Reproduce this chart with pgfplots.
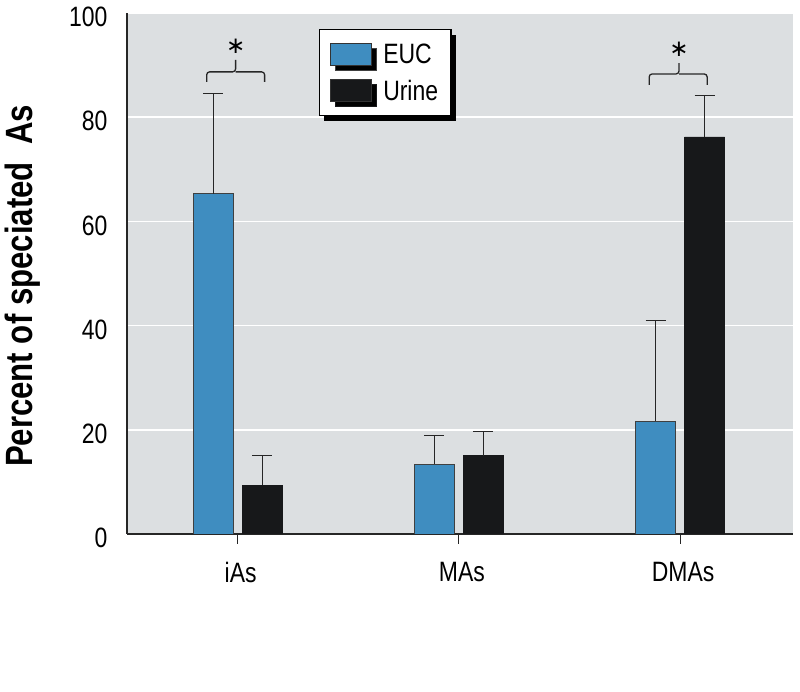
\documentclass[border=0pt]{standalone}
\usepackage{fontspec}
\setmainfont{Liberation Sans}[FakeStretch=0.82]
\newfontfamily\dejavu{DejaVu Sans}
\usepackage{pgfplots}
\pgfplotsset{compat=1.18}
\usetikzlibrary{calc,shadows}
\definecolor{bgGray}{HTML}{DCDFE1}
\definecolor{eucBlue}{HTML}{3F8DC0}
\definecolor{urineBlack}{HTML}{17181A}
\begin{document}
\begin{tikzpicture}
\begin{axis}[name=ax, scale only axis, width=666pt, height=521pt,
 xmin=-0.5, xmax=2.51, ymin=0, ymax=100,
 ybar=9pt, bar width=40pt,
 axis background/.style={fill=bgGray},
 axis x line*=bottom, axis y line*=left,
 axis line style={line width=1.8pt, black!85, -},
 xtick={0,1,2}, xticklabels={iAs,MAs,DMAs},
 ytick={0,20,...,100},
 ymajorgrids, grid style={white, line width=1.6pt},
 tick align=outside, major tick length=10pt,
 xtick style={black!85, line width=0.9pt},
 ytick style={draw=none},
 /pgf/number format/assume math mode=true,
 ticklabel style={font=\fontsize{28}{32}\selectfont},
 yticklabel style={xshift=-6pt, yshift=-4pt},
 xticklabel style={yshift=-15pt, xshift=3pt},
 ylabel={Percent of speciated\ \ As},
 ylabel style={font=\fontsize{38}{44}\selectfont\bfseries, at={(axis description cs:-0.157,0.476)}, anchor=center},
 legend image code/.code={\draw[#1, draw=black!80, line width=0.8pt] (0pt,-11pt) rectangle (41pt,11pt);},
 legend style={at={(axis description cs:0.288,0.969)}, anchor=north west, draw=black, line width=1.3pt, fill=white,
   font=\fontsize{28}{32}\selectfont, inner xsep=11pt, inner ysep=12pt, row sep=11pt,
   drop shadow={shadow xshift=5pt, shadow yshift=-5pt, fill=black, opacity=1},
   /tikz/every odd column/.append style={column sep=9pt}},
 legend cell align=left,
 error bars/y dir=plus, error bars/y explicit,
 error bars/error bar style={black!85, line width=1.2pt},
 error bars/error mark options={rotate=90, mark size=10pt, line width=1.2pt, black!85},
]
\addplot[fill=eucBlue, draw=black!75, line width=0.8pt] coordinates {
 (0,65.3) +- (0,19.2)
 (1,13.4) +- (0,5.5)
 (2,21.6) +- (0,19.4)
};
\addplot[fill=urineBlack, draw=urineBlack, line width=0.8pt] coordinates {
 (0,9.4) +- (0,5.6)
 (1,15.0) +- (0,4.6)
 (2,76.2) +- (0,8.0)
};
\legend{EUC,Urine}
\draw[black!85, line width=1.3pt, rounded corners=3pt] (axis cs:-0.140,86.8) |- (axis cs:-0.009,88.7) -- (axis cs:-0.009,91.0);
\draw[black!85, line width=1.3pt, rounded corners=3pt] (axis cs:-0.009,88.7) -| (axis cs:0.122,86.8);
\node[font=\dejavu\fontsize{23}{23}\selectfont, inner sep=0pt] at (axis cs:-0.009,93.7) {∗};
\draw[black!85, line width=1.3pt, rounded corners=3pt] (axis cs:1.860,86.2) |- (axis cs:1.995,88.3) -- (axis cs:1.995,90.4);
\draw[black!85, line width=1.3pt, rounded corners=3pt] (axis cs:1.995,88.3) -| (axis cs:2.122,86.2);
\node[font=\dejavu\fontsize{23}{23}\selectfont, inner sep=0pt] at (axis cs:1.995,93.1) {∗};
\end{axis}
\pgfresetboundingbox
\path ($(ax.south west)+(-127pt,-158pt)$) rectangle ($(ax.north east)+(7pt,13pt)$);
\end{tikzpicture}
\end{document}
